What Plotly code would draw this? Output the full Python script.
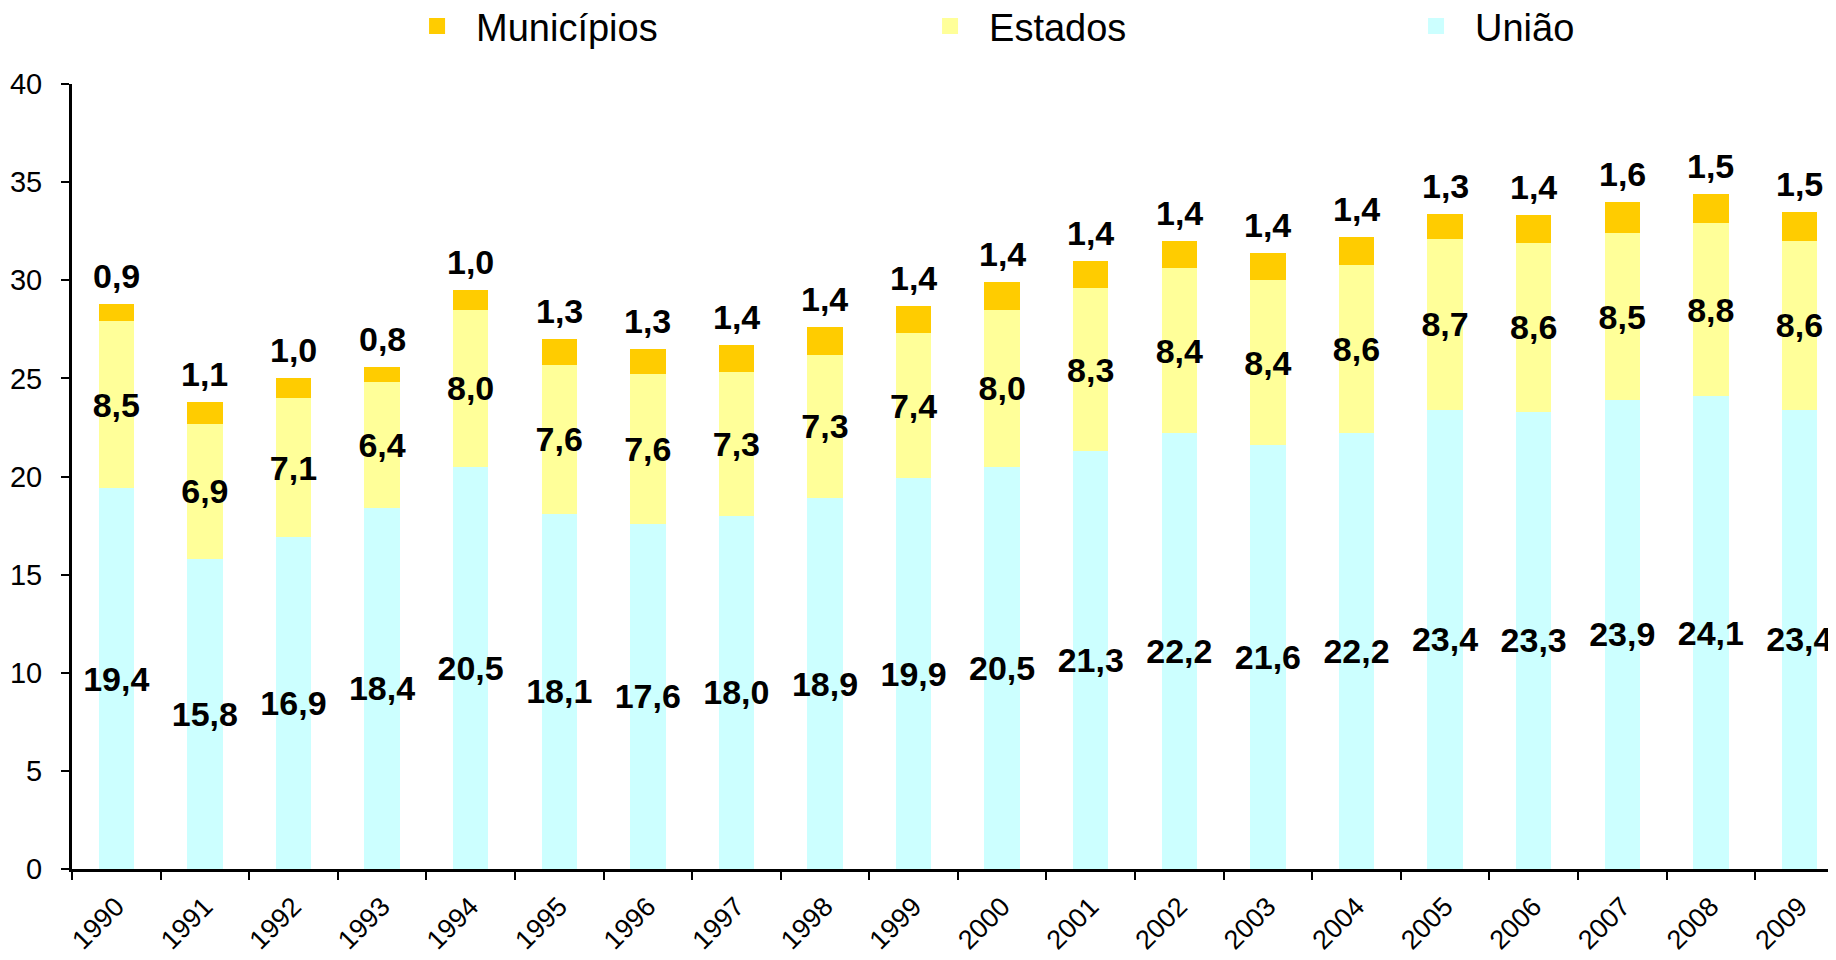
import plotly.graph_objects as go

years = ["1990", "1991", "1992", "1993", "1994", "1995", "1996", "1997", "1998", "1999",
         "2000", "2001", "2002", "2003", "2004", "2005", "2006", "2007", "2008", "2009"]
uniao = [19.4, 15.8, 16.9, 18.4, 20.5, 18.1, 17.6, 18.0, 18.9, 19.9,
         20.5, 21.3, 22.2, 21.6, 22.2, 23.4, 23.3, 23.9, 24.1, 23.4]
estados = [8.5, 6.9, 7.1, 6.4, 8.0, 7.6, 7.6, 7.3, 7.3, 7.4,
           8.0, 8.3, 8.4, 8.4, 8.6, 8.7, 8.6, 8.5, 8.8, 8.6]
municipios = [0.9, 1.1, 1.0, 0.8, 1.0, 1.3, 1.3, 1.4, 1.4, 1.4,
              1.4, 1.4, 1.4, 1.4, 1.4, 1.3, 1.4, 1.6, 1.5, 1.5]

C_MUN = "#FFCC00"
C_EST = "#FFFF99"
C_UNI = "#CCFFFF"
FONT = "Liberation Sans, Arial, sans-serif"
LABEL_FONT = dict(family=FONT, size=34, color="black", weight="bold")

fig = go.Figure()
common = dict(width=0.4, textposition="inside", insidetextanchor="middle", textangle=0,
              constraintext="none", texttemplate="%{y:.1f}", insidetextfont=LABEL_FONT,
              showlegend=False, hoverinfo="x+y", marker_line_width=0)
fig.add_trace(go.Bar(x=years, y=uniao, name="União", marker_color=C_UNI, **common))
fig.add_trace(go.Bar(x=years, y=estados, name="Estados", marker_color=C_EST, **common))
fig.add_trace(go.Bar(x=years, y=municipios, name="Municípios", marker_color=C_MUN,
                     width=0.4, showlegend=False, marker_line_width=0))

# Municípios labels above the stacks
totals = [u + e + m for u, e, m in zip(uniao, estados, municipios)]
for i, (tot, m) in enumerate(zip(totals, municipios)):
    fig.add_annotation(x=i, y=tot, xref="x", yref="y", text=f"{m:.1f}".replace(".", ","),
                       showarrow=False, yanchor="middle", yshift=28, font=LABEL_FONT)

# legend entries
SP = "\u2002"
for name, color, lg in [("Municípios", C_MUN, "legend"), ("Estados", C_EST, "legend2"),
                        ("União", C_UNI, "legend3")]:
    fig.add_trace(go.Scatter(x=[None], y=[None], mode="markers", name=SP + name, legend=lg,
                             marker=dict(symbol="square", size=16, color=color)))

leg_common = dict(orientation="h", xref="container", yref="container", yanchor="middle",
                  y=0.981, font=dict(family=FONT, size=38, color="black"),
                  bgcolor="rgba(0,0,0,0)", borderwidth=0, itemsizing="trace")
fig.update_layout(
    barmode="stack",
    separators=",.",
    width=1836, height=960,
    margin=dict(l=64, r=8, t=76, b=99, autoexpand=False),
    plot_bgcolor="white", paper_bgcolor="white",
    font=dict(family=FONT, color="black"),
    legend=dict(x=0.2228, **leg_common),
    legend2=dict(x=0.5022, **leg_common),
    legend3=dict(x=0.7669, **leg_common),
    xaxis=dict(type="category", range=[-0.5, 19.413], tickangle=-45, tickson="boundaries",
               ticks="outside", ticklen=8, tickwidth=2, tickcolor="black",
               showline=True, linecolor="black", linewidth=3, showgrid=False,
               ticklabelstandoff=8, automargin=False,
               tickfont=dict(family=FONT, size=27, color="black")),
    yaxis=dict(range=[0, 40], dtick=5, ticks="outside", ticklen=8, tickwidth=2,
               tickcolor="black", showline=True, linecolor="black", linewidth=3,
               showgrid=False, zeroline=False, ticklabelstandoff=13, automargin=False,
               tickfont=dict(family=FONT, size=29, color="black")),
)

fig.write_html("out.html")
